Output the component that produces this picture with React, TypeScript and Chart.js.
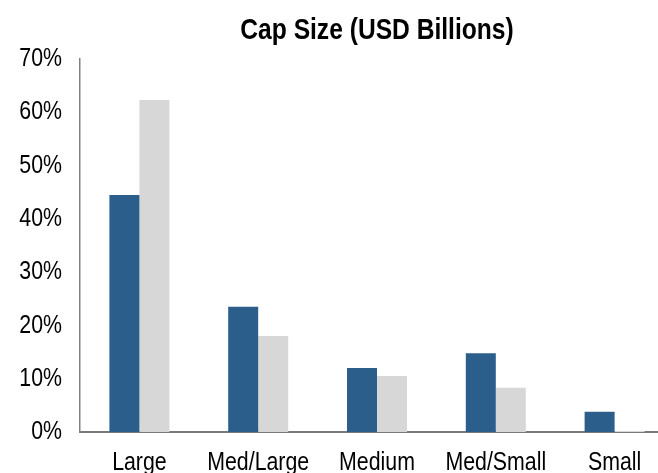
import React, { useEffect, useRef } from "react";
import { Chart, registerables } from "chart.js";

Chart.register(...registerables);

const categories = ["Large", "Med/Large", "Medium", "Med/Small", "Small"];
const seriesA = [44.5, 23.5, 12.0, 14.8, 3.8];
const seriesB = [62.3, 18.0, 10.5, 8.3, 0.2];
const yTicks = [0, 10, 20, 30, 40, 50, 60, 70];
const titleText = "Cap Size (USD Billions)";

const FONT = "'Liberation Sans', Arial, sans-serif";
const NARROW = 0.82;

const narrowText = {
  id: "narrowText",
  beforeDraw(chart: any) {
    const ctx = chart.ctx;
    if (ctx.__origFillText) return;
    const orig = ctx.fillText;
    ctx.__origFillText = orig;
    ctx.fillText = function (text: string, x: number, y: number, maxWidth?: number) {
      ctx.save();
      ctx.translate(x, y);
      ctx.scale(NARROW, 1);
      if (maxWidth !== undefined) orig.call(ctx, text, 0, 0, maxWidth / NARROW);
      else orig.call(ctx, text, 0, 0);
      ctx.restore();
    };
  },
  afterDraw(chart: any) {
    const ctx = chart.ctx;
    if (ctx.__origFillText) {
      ctx.fillText = ctx.__origFillText;
      delete ctx.__origFillText;
    }
  },
};

export default function App() {
  const ref = useRef<HTMLCanvasElement | null>(null);
  useEffect(() => {
    if (!ref.current) return;
    const chart = new Chart(ref.current, {
      type: "bar",
      data: {
        labels: categories,
        datasets: [
          { data: seriesA, backgroundColor: "#2C5E8C", borderWidth: 0 },
          { data: seriesB, backgroundColor: "#D7D7D7", borderWidth: 0 },
        ],
      },
      plugins: [narrowText],
      options: {
        animation: false,
        responsive: false,
        maintainAspectRatio: false,
        layout: { padding: { left: 0, right: 26, top: 0, bottom: 0 } },
        datasets: { bar: { categoryPercentage: 0.505, barPercentage: 1.0 } },
        plugins: {
          legend: { display: false },
          tooltip: { enabled: false },
          title: {
            display: true,
            text: titleText,
            fullSize: false,
            color: "#000",
            font: { family: FONT, size: 30, weight: "bold", lineHeight: 1.2 },
            padding: { top: 13, bottom: 10 },
          },
        },
        scales: {
          x: {
            grid: { display: false, drawTicks: false },
            border: { display: true, color: "#7a7a7a", width: 2 },
            ticks: { color: "#000", font: { family: FONT, size: 26 }, padding: 15, maxRotation: 0, autoSkip: false },
            afterFit: (s: any) => { s.height = 41; },
          },
          y: {
            min: 0,
            max: 70,
            afterBuildTicks: (s: any) => { s.ticks = yTicks.map((v) => ({ value: v })); },
            grid: { display: false, drawTicks: false },
            border: { display: true, color: "#808080", width: 1.5 },
            ticks: {
              color: "#000",
              font: { family: FONT, size: 26 },
              padding: 18,
              callback: (v: any) => v + "%",
            },
            afterFit: (s: any) => { s.width = 80; },
          },
        },
      },
    });
    return () => chart.destroy();
  }, []);
  return (
    <div style={{ position: "fixed", left: 0, top: 0, width: 658, height: 473, overflow: "hidden", background: "#fff" }}>
      <canvas ref={ref} width={700} height={473} style={{ display: "block" }} />
    </div>
  );
}
